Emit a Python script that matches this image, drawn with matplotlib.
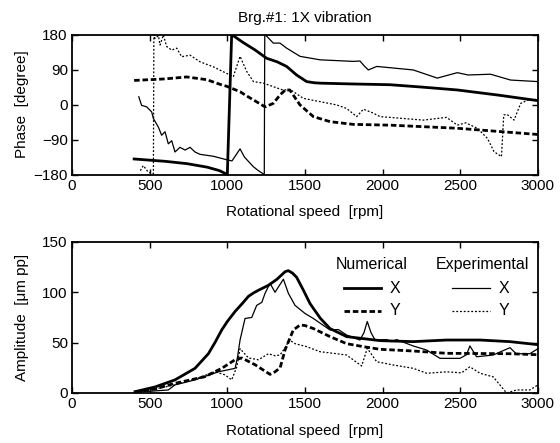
"""Brg.#1 1X vibration: phase and amplitude versus rotational speed."""

import matplotlib
matplotlib.use('Agg')
import matplotlib.pyplot as plt

plt.rcParams['font.family'] = ['Liberation Sans', 'DejaVu Sans']
plt.rcParams['font.size'] = 11

# ---- Phase [degree] -------------------------------------------------------
ph_num_x_rpm = [400, 500, 600, 740, 870, 950, 1000, 1028, 1100, 1180, 1253,
                1320, 1382, 1446, 1511, 1560, 1600, 1800, 2048, 2250, 2481,
                2750, 3000]
ph_num_x = [-140, -143, -146, -152, -161, -170, -180, 180, 160, 140, 119,
            110, 98, 76, 59, 56, 55, 53, 51, 45, 37.5, 24, 10]

ph_num_y_rpm = [400, 500, 600, 738, 867, 953, 996, 1082, 1125, 1168, 1243,
                1296, 1340, 1375, 1403, 1468, 1554, 1661, 1811, 2048, 2481,
                3000]
ph_num_y = [62, 64, 66, 71, 64, 52, 47, 33, 22, 12, -6, 3, 25, 38, 37, -1,
            -31, -44, -51, -53, -61, -77]

ph_exp_x_rpm = [430, 448, 481, 513, 524, 556, 577, 599, 620, 642, 663, 695,
                728, 760, 792, 824, 910, 996, 1030, 1082, 1110, 1168, 1200,
                1238, 1241, 1253, 1296, 1339, 1382, 1468, 1597, 1811, 1854,
                1880, 1908, 1962, 2197, 2352, 2481, 2550, 2695, 2824, 3000]
ph_exp_x = [20, -2, -6, -19, -36, -58, -79, -70, -101, -93, -122, -110,
            -117, -110, -122, -128, -133, -142, -145, -114, -135, -160, -170,
            -180, 180, 176, 158, 158, 145, 124, 115, 111, 112, 100, 89, 98,
            89, 68, 82, 76, 78, 63, 59]

ph_exp_y_rpm = [440, 459, 491, 524, 527, 534, 556, 567, 588, 610, 642, 674,
                706, 760, 824, 910, 996, 1039, 1082, 1125, 1168, 1232, 1296,
                1361, 1403, 1489, 1597, 1704, 1768, 1833, 1876, 1940, 1983,
                2262, 2412, 2481, 2535, 2610, 2675, 2717, 2765, 2780, 2800,
                2846, 2889, 2943, 3000]
ph_exp_y = [-170, -157, -174, -178, 180, 170, 177, 153, 179, 149, 140, 145,
            123, 127, 110, 97, 80, 72, 124, 85, 59, 55, 46, 37, 39, 16, 7.5,
            -1, -10, -31, -12, -22, -31, -40, -33, -53, -47, -61, -87, -121,
            -134, -27, -25, -40, 3, 13, 13]

# ---- Amplitude [um pp] ----------------------------------------------------
am_num_x_rpm = [406, 535, 663, 792, 878, 920, 964, 1000, 1050, 1100, 1136,
                1170, 1200, 1265, 1320, 1372, 1393, 1420, 1446, 1490, 1532,
                1554, 1600, 1661, 1768, 1983, 2197, 2412, 2627, 2820, 3000]
am_num_x = [1.3, 6, 13, 24.5, 39, 50, 62.6, 71, 81, 89.5, 96, 99.5, 102, 107,
            113, 120.5, 121.5, 119, 115, 102, 89, 84, 74, 64, 56, 52, 51,
            52.6, 52.6, 51, 48]

am_num_y_rpm = [406, 535, 663, 856, 964, 1050, 1093, 1179, 1275, 1307, 1340,
                1372, 1425, 1468, 1500, 1554, 1661, 1768, 1876, 1983, 2197,
                2412, 2820, 3000]
am_num_y = [1, 4, 9.6, 16.2, 24.5, 33, 34.8, 28, 18.5, 21, 25, 43, 62.6,
            67.5, 67, 64, 56, 49, 46, 43.4, 41.7, 39.4, 39, 38]

am_exp_x_rpm = [438, 620, 663, 792, 942, 1050, 1065, 1082, 1114, 1157, 1189,
                1222, 1243, 1275, 1307, 1361, 1393, 1436, 1500, 1554, 1661,
                1715, 1768, 1854, 1880, 1901, 1925, 1951, 2026, 2060, 2090,
                2197, 2283, 2369, 2498, 2540, 2562, 2605, 2712, 2790, 2820,
                2860, 2948, 3000]
am_exp_x = [1, 3, 8, 13, 21, 24.5, 35, 52.6, 74, 75, 87, 90, 99, 109, 100,
            113, 99, 87, 79, 74, 62.6, 63, 57.6, 52.6, 60, 71, 60, 52.6, 53,
            51, 53, 46.7, 42.7, 34.4, 34.4, 38, 46.7, 36, 37.7, 43, 45, 39,
            39, 44]

am_exp_y_rpm = [438, 663, 792, 921, 985, 1028, 1061, 1082, 1136, 1200, 1265,
                1307, 1339, 1372, 1400, 1436, 1511, 1597, 1683, 1768, 1865,
                1901, 1962, 2069, 2197, 2283, 2412, 2508, 2562, 2627, 2712,
                2798, 2862, 2948, 3000]
am_exp_y = [1, 8, 14, 21, 18, 13, 26, 44, 34.8, 33, 39, 37, 37.7, 45, 52.6,
            49, 46, 41, 39.4, 37.7, 26.8, 44.4, 31, 27.8, 24.5, 19.6, 21, 20,
            26, 19.6, 16, 0, 3, 3, 8]

x_ticks = [0, 500, 1000, 1500, 2000, 2500, 3000]
phase_ticks = [-180, -90, 0, 90, 180]
amp_ticks = [0, 50, 100, 150]

THICK = dict(color='black', lw=2.0)
THIN = dict(color='black', lw=0.9)
NUM_DASH = (2, 1)
EXP_DOT = (1.5, 1.5)

fig = plt.figure(figsize=(5.6, 4.43), dpi=100)
ax1 = fig.add_axes([0.1286, 0.606, 0.832, 0.316])
ax2 = fig.add_axes([0.1286, 0.1129, 0.832, 0.3409])


def style(ax):
    for sp in ax.spines.values():
        sp.set_linewidth(1.3)
    ax.tick_params(direction='in', length=4, width=1, top=True, right=True,
                   labelsize=11, pad=3)
    ax.set_xlim(0, 3000)
    ax.set_xticks(x_ticks)
    ax.set_xlabel('Rotational speed  [rpm]', labelpad=9)
    ax.yaxis.set_label_coords(-0.092, 0.5)


# Phase panel
ax1.plot(ph_num_x_rpm, ph_num_x, **THICK)
ax1.plot(ph_num_y_rpm, ph_num_y, dashes=NUM_DASH, **THICK)
ax1.plot(ph_exp_x_rpm, ph_exp_x, **THIN)
ax1.plot(ph_exp_y_rpm, ph_exp_y, dashes=EXP_DOT, **THIN)
ax1.set_ylim(-180, 180)
ax1.set_yticks(phase_ticks)
ax1.set_ylabel('Phase  [degree]')
ax1.set_title('Brg.#1: 1X vibration', fontsize=11, pad=9)
style(ax1)

# Amplitude panel
ax2.plot(am_num_x_rpm, am_num_x, **THICK)
ax2.plot(am_num_y_rpm, am_num_y, dashes=NUM_DASH, **THICK)
ax2.plot(am_exp_x_rpm, am_exp_x, **THIN)
ax2.plot(am_exp_y_rpm, am_exp_y, dashes=EXP_DOT, **THIN)
ax2.set_ylim(0, 150)
ax2.set_yticks(amp_ticks)
ax2.set_ylabel('Amplitude  [\u03bcm pp]')
style(ax2)

# Hand-made two-column legend
tr = ax2.transAxes
ax2.text(0.644, 0.854, 'Numerical', transform=tr, ha='center', va='center',
         fontsize=11.5)
ax2.text(0.88, 0.854, 'Experimental', transform=tr, ha='center', va='center',
         fontsize=11.5)
for yy, lab, num_kw, exp_kw in [
        (0.693, 'X', {}, {}),
        (0.545, 'Y', {'dashes': NUM_DASH}, {'dashes': EXP_DOT})]:
    ax2.plot([0.584, 0.663], [yy, yy], transform=tr, **THICK, **num_kw)
    ax2.text(0.682, yy, lab, transform=tr, ha='left', va='center',
             fontsize=11.5)
    ax2.plot([0.815, 0.897], [yy, yy], transform=tr, **THIN, **exp_kw)
    ax2.text(0.915, yy, lab, transform=tr, ha='left', va='center',
             fontsize=11.5)

fig.savefig('out.png', dpi=100, facecolor='white')
plt.close(fig)
